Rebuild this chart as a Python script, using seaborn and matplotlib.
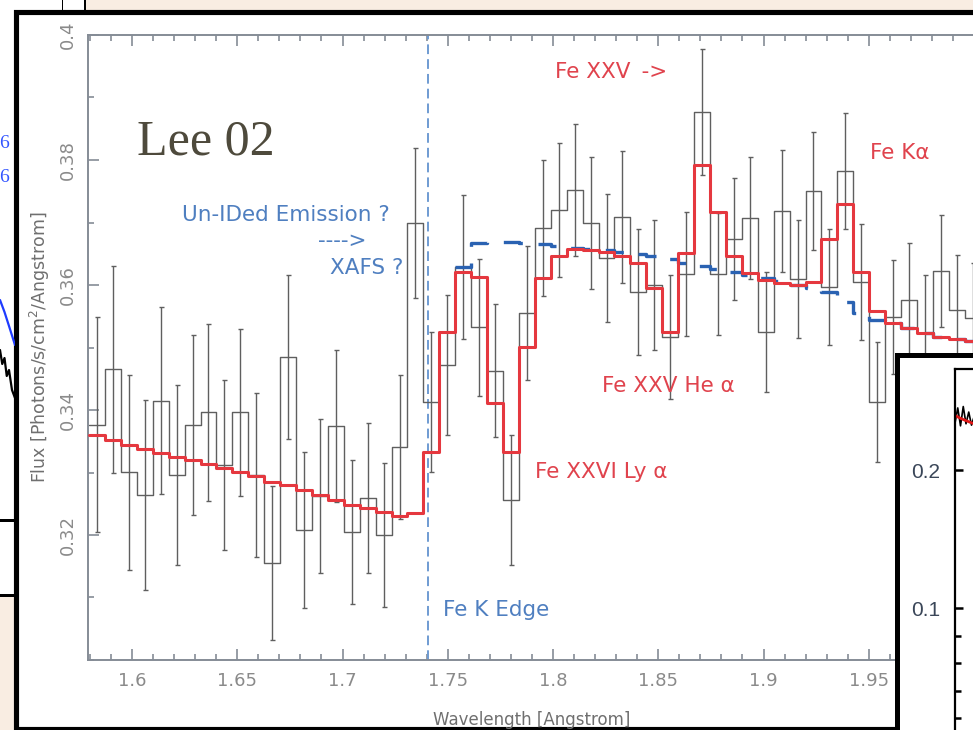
import numpy as np
import pandas as pd
import matplotlib
matplotlib.use("Agg")
import matplotlib.pyplot as plt
import seaborn as sns
from matplotlib.patches import Rectangle
from matplotlib.ticker import FixedLocator, MultipleLocator, FuncFormatter

# ---------------- data ----------------
bin_start = 1.57961      # left edge of first spectral bin [Angstrom]
bin_width = 0.007563     # bin width [Angstrom]

flux = [0.3376, 0.3465, 0.3300, 0.3264, 0.3415, 0.3296, 0.3376, 0.3396, 0.3312, 0.3396,
        0.3296, 0.3155, 0.3485, 0.3208, 0.3262, 0.3374, 0.3205, 0.3259, 0.3200, 0.3341,
        0.3699, 0.3413, 0.3472, 0.3629, 0.3532, 0.3463, 0.3256, 0.3555, 0.3691, 0.3720,
        0.3752, 0.3699, 0.3643, 0.3709, 0.3589, 0.3600, 0.3517, 0.3618, 0.3877, 0.3618,
        0.3674, 0.3707, 0.3525, 0.3718, 0.3610, 0.3750, 0.3597, 0.3782, 0.3605, 0.3413,
        0.3549, 0.3576, 0.3523, 0.3622, 0.3560, 0.3547]

flux_err = [0.0172, 0.0166, 0.0156, 0.0152, 0.0150, 0.0144, 0.0144, 0.0141, 0.0136, 0.0134,
            0.0131, 0.0123, 0.0131, 0.0125, 0.0123, 0.0122, 0.0115, 0.0120, 0.0115, 0.0115,
            0.0120, 0.0112, 0.0112, 0.0115, 0.0110, 0.0107, 0.0104, 0.0107, 0.0109, 0.0107,
            0.0106, 0.0106, 0.0102, 0.0106, 0.0101, 0.0104, 0.0099, 0.0099, 0.0101, 0.0098,
            0.0098, 0.0098, 0.0096, 0.0098, 0.0094, 0.0094, 0.0093, 0.0093, 0.0093, 0.0096,
            0.0091, 0.0091, 0.0093, 0.0090, 0.0088, 0.0088]

model = [0.3360, 0.3352, 0.3344, 0.3337, 0.3331, 0.3325, 0.3320, 0.3314, 0.3307, 0.3301,
         0.3294, 0.3285, 0.3280, 0.3272, 0.3264, 0.3256, 0.3248, 0.3243, 0.3236, 0.3230,
         0.3235, 0.3333, 0.3525, 0.3621, 0.3613, 0.3411, 0.3333, 0.3501, 0.3611, 0.3646,
         0.3657, 0.3656, 0.3652, 0.3646, 0.3635, 0.3596, 0.3525, 0.3651, 0.3792, 0.3717,
         0.3647, 0.3619, 0.3608, 0.3603, 0.3600, 0.3604, 0.3673, 0.3730, 0.3621, 0.3559,
         0.3540, 0.3531, 0.3524, 0.3517, 0.3513, 0.3511]

continuum_first_bin = 23
continuum = [0.3629, 0.3667, 0.3668, 0.3668, 0.3667, 0.3665, 0.3662, 0.3660, 0.3658, 0.3656,
             0.3653, 0.3650, 0.3646, 0.3642, 0.3635, 0.3630, 0.3625, 0.3621, 0.3616, 0.3611,
             0.3606, 0.3600, 0.3595, 0.3589, 0.3573, 0.3555, 0.3544, 0.3540, 0.3531, 0.3524,
             0.3517, 0.3513, 0.3511]

fe_k_edge = 1.7406
x_ticks = [1.6, 1.65, 1.7, 1.75, 1.8, 1.85, 1.9, 1.95]
y_ticks = [0.32, 0.34, 0.36, 0.38, 0.4]
x_limits = (1.5791, 1.9995)
y_limits = (0.30, 0.40)

# fragment of a neighbouring chart (lower right)
inset_x = [0.0, 0.05, 0.10, 0.15, 0.20, 0.25, 0.30, 0.35, 0.40]
inset_red = [0.2395, 0.2385, 0.2375, 0.2366, 0.2358, 0.2350, 0.2342, 0.2334, 0.2326]
inset_black = [0.2340, 0.2450, 0.2320, 0.2460, 0.2335, 0.2420, 0.2325, 0.2390, 0.2340]
inset_ticks = [0.1, 0.2]
inset_minor = [0.02, 0.04, 0.06, 0.08]
inset_limits = (0.0116, 0.2732)

# fragment of a neighbouring chart (left edge)
frag_x = [0.0, 0.3, 0.6, 1.0]
frag_blue = [300, 312, 326, 345]
frag_black = [350, 364, 358, 376, 370, 390, 398]
frag_black_x = [0.0, 0.15, 0.3, 0.45, 0.6, 0.8, 1.0]

# ---------------- figure ----------------
W, H = 973, 730
BEIGE = "#f9ede2"
sns.set_style("ticks")
plt.rcParams["font.family"] = ["DejaVu Sans"]

fig = plt.figure(figsize=(W / 100, H / 100), dpi=100, facecolor=BEIGE)


def fx(px):
    return px / W


def fy(py):
    return 1 - py / H


def rect(x0, y0, x1, y1, fc, ec="none", lw=0, z=-5):
    fig.patches.append(Rectangle((fx(x0), fy(y1)), fx(x1) - fx(x0), fy(y0) - fy(y1),
                                 transform=fig.transFigure, facecolor=fc,
                                 edgecolor=ec, linewidth=lw, zorder=z))


# surrounding pieces of the collage
rect(-5, -5, 86, 11, "white", z=-6)
rect(61.8, -5, 63.2, 11, "black", z=-5)
rect(83.5, -5, 86.5, 11, "black", z=-5)
rect(-5, 10, 16, 521, "white", z=-6)
rect(-5, 519, 16, 521.5, "black", z=-5)
rect(-5, 521, 16, 594, "white", z=-6)
rect(-5, 594, 16, 596.5, "black", z=-5)
# main framed panel
rect(15.5, 11.5, 1010, 728.5, "white", ec="black", lw=3.7, z=-4)

# ---------------- main spectrum axes ----------------
ax = fig.add_axes([fx(88), fy(660), fx(973) - fx(88), fy(35) - fy(660)], zorder=0)
ax.set_facecolor("white")

n = len(flux)
edges = bin_start + bin_width * np.arange(n + 1)
centers = edges[:-1] + bin_width / 2

df_data = pd.DataFrame({"wl": edges, "flux": flux + [flux[-1]]})
df_model = pd.DataFrame({"wl": edges, "flux": model + [model[-1]]})
c0 = continuum_first_bin
df_cont = pd.DataFrame({"wl": edges[c0:c0 + len(continuum) + 1],
                        "flux": continuum + [continuum[-1]]})

GREY = "#5f5f5f"
sns.lineplot(data=df_data, x="wl", y="flux", drawstyle="steps-post", estimator=None,
             sort=False, color=GREY, lw=1.0, ax=ax, zorder=2)
ax.errorbar(centers, flux, yerr=flux_err, fmt="none", ecolor=GREY, elinewidth=1.0,
            capsize=1.8, capthick=1.0, zorder=2)
sns.lineplot(data=df_cont, x="wl", y="flux", drawstyle="steps-post", estimator=None,
             sort=False, color="#2a62b2", lw=2.4, ax=ax, zorder=3)
ax.lines[-1].set_dashes((6, 5))
sns.lineplot(data=df_model, x="wl", y="flux", drawstyle="steps-post", estimator=None,
             sort=False, color="#e5383f", lw=2.2, ax=ax, zorder=4)
ax.axvline(fe_k_edge, color="#6f9bd2", lw=1.4, dashes=(5, 2.6), zorder=1)

ax.set_xlim(*x_limits)
ax.set_ylim(*y_limits)
ax.xaxis.set_major_locator(FixedLocator(x_ticks))
ax.xaxis.set_minor_locator(MultipleLocator(0.01))
ax.yaxis.set_major_locator(FixedLocator(y_ticks))
ax.yaxis.set_minor_locator(MultipleLocator(0.01))
ax.xaxis.set_major_formatter(FuncFormatter(lambda v, p: f"{v:g}"))
ax.yaxis.set_major_formatter(FuncFormatter(lambda v, p: f"{v:g}"))

SPINE = "#858c96"
for side in ["left", "bottom", "top"]:
    ax.spines[side].set_color(SPINE)
    ax.spines[side].set_linewidth(1.4)
ax.spines["right"].set_visible(False)
ax.tick_params(which="both", direction="in", color=SPINE, width=1.2, top=True,
               right=False, labelcolor="#8a8a8a", labelsize=13)
ax.tick_params(which="major", length=8)
ax.tick_params(which="minor", length=4)
ax.tick_params(axis="x", pad=8.5)
ax.tick_params(axis="y", pad=8)
for lbl in ax.get_yticklabels():
    lbl.set_rotation(90)
    lbl.set_va("center")

ax.set_xlabel("Wavelength [Angstrom]", fontsize=12, color="#6f6f6f")
ax.set_ylabel("Flux [Photons/s/cm$^2$/Angstrom]", fontsize=12.5, color="#6f6f6f")
ax.xaxis.set_label_coords((532 - 88) / 885, -(711 - 660) / 625)
ax.yaxis.set_label_coords(-(88 - 52) / 885, (660 - 347) / 625)

BLUE_T = "#4f7fc0"
RED_T = "#e0434d"
tkw = dict(fontsize=15.5, va="center", ha="left")
ax.text(1.6237, 0.3712, "Un-IDed Emission ?", color=BLUE_T, **tkw)
ax.text(1.6884, 0.3670, "---->", color=BLUE_T, **tkw)
ax.text(1.6941, 0.3627, "XAFS ?", color=BLUE_T, **tkw)
ax.text(1.7477, 0.3080, "Fe K Edge", color=BLUE_T, **tkw)
ax.text(1.8010, 0.3941, "Fe XXV \u2009->", color=RED_T, **tkw)
ax.text(1.9506, 0.3811, "Fe K\u03b1", color=RED_T, **tkw)
ax.text(1.8233, 0.3438, "Fe XXV He \u03b1", color=RED_T, **tkw)
ax.text(1.7914, 0.3301, "Fe XXVI Ly \u03b1", color=RED_T, **tkw)
ax.text(1.6024, 0.3808, "Lee 02", color="#4e4a3c", fontsize=36,
        family=["Liberation Serif"], va="baseline", ha="left")

# ---------------- left-edge fragment ----------------
axl = fig.add_axes([0, fy(520), fx(15), fy(10) - fy(520)], zorder=-3)
axl.set_axis_off()
axl.set_xlim(0, 1)
axl.set_ylim(520, 10)
sns.lineplot(x=frag_x, y=frag_blue, color="#1f3cff", lw=1.6, ax=axl, estimator=None, sort=False)
sns.lineplot(x=frag_black_x, y=frag_black, color="black", lw=1.6, ax=axl, estimator=None, sort=False)
axl.text(0.62, 143, "6", color="#3355ff", fontsize=14, family=["Liberation Serif"],
         ha="right", va="center")
axl.text(0.62, 177, "6", color="#3355ff", fontsize=14, family=["Liberation Serif"],
         ha="right", va="center")

# ---------------- lower-right fragment (another chart) ----------------
rect(896.5, 355, 1010, 740, "white", ec="black", lw=3.6, z=2)
axi = fig.add_axes([fx(955), 0, fx(1010) - fx(955), fy(369)], zorder=3)
axi.set_facecolor("white")
axi.set_xlim(0, 1)
axi.set_ylim(*inset_limits)
sns.lineplot(x=inset_x, y=inset_black, color="black", lw=1.2, ax=axi, estimator=None, sort=False)
sns.lineplot(x=inset_x, y=inset_red, color="#e01818", lw=2.0, ax=axi, estimator=None, sort=False)
for side in ["bottom", "right"]:
    axi.spines[side].set_visible(False)
for side in ["left", "top"]:
    axi.spines[side].set_color("black")
    axi.spines[side].set_linewidth(1.6)
axi.set_xticks([])
axi.yaxis.set_major_locator(FixedLocator(inset_ticks))
axi.yaxis.set_minor_locator(FixedLocator(inset_minor))
axi.yaxis.set_major_formatter(FuncFormatter(lambda v, p: f"{v:g}"))
axi.tick_params(axis="y", which="both", direction="in", color="black", width=1.8,
                labelsize=15, labelcolor="#3a4658", pad=10.5)
axi.tick_params(axis="y", which="major", length=6)
axi.tick_params(axis="y", which="minor", length=4)
for lbl in axi.get_yticklabels():
    lbl.set_family(["Liberation Sans"])

fig.savefig("out.png", dpi=100, facecolor=fig.get_facecolor())
